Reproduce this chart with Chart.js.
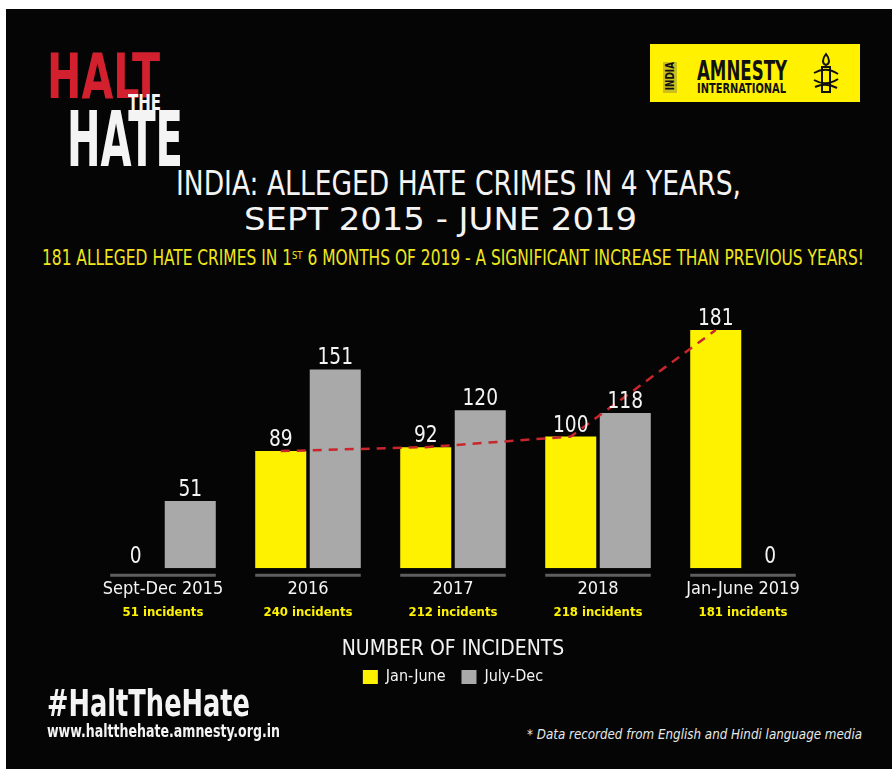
<!DOCTYPE html>
<html>
<head>
<meta charset="utf-8">
<script src="https://cdn.jsdelivr.net/npm/chart.js@4.4.1/dist/chart.umd.min.js"></script>
<style>
  body { margin: 0; width: 892px; height: 769px; overflow: hidden; position: relative; background: #fff;
         font-family: "Liberation Sans Narrow", "DejaVu Sans Condensed", "Arial Narrow", sans-serif; }
  #board { position: absolute; left: 6px; top: 9px; right: 0; bottom: 0; background: #050505; }
  .t { position: absolute; white-space: nowrap; line-height: 1; color: #f4f4f4; transform-origin: 0 0; }
  #wrap { position: absolute; left: 0; top: 280px; width: 892px; height: 415px; }
  .amn { position: absolute; left: 650px; top: 44px; width: 210px; height: 58px; background: #fff100; }
  .india { position: absolute; left: 663px; top: 62px; width: 14px; height: 31px; writing-mode: vertical-rl;
           transform: rotate(180deg) scaleY(0.82); font-size: 12px; font-weight: bold; line-height: 14px;
           text-align: center; color: #111; white-space: nowrap; }
  sup { font-size: 0.55em; vertical-align: 0.55em; }
</style>
</head>
<body>
<div id="board"></div>

<!-- Halt the Hate logo -->
<div class="t" data-w="113" style="left:47px;top:45px;font-size:63px;font-weight:bold;color:#d3202f;">HALT</div>
<div class="t" data-w="33" style="left:128px;top:93px;font-size:21px;font-weight:bold;">THE</div>
<div class="t" data-w="116" style="left:67px;top:101px;font-size:77px;font-weight:bold;">HATE</div>

<!-- Amnesty logo -->
<div class="amn"></div>
<div class="t" style="left:663px;top:62px;width:14px;height:31px;background:#cbbf1e;"></div>
<div class="india">INDIA</div>
<div class="t" data-w="90" style="left:697px;top:58px;font-size:26px;font-weight:bold;color:#111;">AMNESTY</div>
<div class="t" data-w="89" style="left:697px;top:81px;font-size:14px;font-weight:bold;color:#111;">INTERNATIONAL</div>
<svg style="position:absolute;left:810px;top:52px" width="32" height="46" viewBox="0 0 32 46" fill="none" stroke="#111" stroke-width="2">
  <path d="M16 2 C12 7 12 12 16 13 C20 12 20 7 16 2 Z"/>
  <rect x="12" y="15" width="8" height="25"/>
  <path d="M4 21 Q16 14 28 22"/>
  <path d="M4 28 Q16 35 28 27"/>
  <path d="M5 35 Q16 30 27 36"/>
</svg>

<!-- titles -->
<div class="t" data-w="565" style="left:176px;top:167px;font-size:33px;">INDIA: ALLEGED HATE CRIMES IN 4 YEARS,</div>
<div class="t" data-w="393" style="left:244px;top:203px;font-size:32px;">SEPT 2015 - JUNE 2019</div>
<div class="t" data-w="822" style="left:42px;top:248px;font-size:20.5px;color:#f1e51d;">181 ALLEGED HATE CRIMES IN 1<sup>ST</sup> 6 MONTHS OF 2019 - A SIGNIFICANT INCREASE THAN PREVIOUS YEARS!</div>

<div id="wrap"><canvas id="chart"></canvas></div>

<!-- footer -->
<div class="t" data-w="203" style="left:47px;top:684px;font-size:38px;font-weight:bold;">#HaltTheHate</div>
<div class="t" data-w="233" style="left:47px;top:722px;font-size:18px;font-weight:bold;">www.haltthehate.amnesty.org.in</div>
<div class="t" data-w="335" style="left:527px;top:727px;font-size:14px;font-style:italic;color:#e8e8e8;">* Data recorded from English and Hindi language media</div>

<script>
const categories = ['Sept-Dec 2015', '2016', '2017', '2018', 'Jan-June 2019'];
const seriesNames = ['Jan-June', 'July-Dec'];
const janJune = [0, 89, 92, 100, 181];
const julyDec = [51, 151, 120, 118, 0];
const totals = [51, 240, 212, 218, 181];
const trend = [null, 89, 92, 100, 181];
const legendTitle = 'NUMBER OF INCIDENTS';

const YELLOW = '#fff200';
const GREY = '#a9a9a9';
const NARROW = '"Liberation Sans Narrow", "DejaVu Sans Condensed", "Arial Narrow", sans-serif';

// squeeze html texts to the widths seen in the picture
document.querySelectorAll('[data-w]').forEach(el => {
  const w = el.getBoundingClientRect().width;
  el.style.transform = 'scaleX(' + (el.dataset.w / w) + ')';
});

// underlines, red trend line, value labels, incident counts
const extras = {
  id: 'extras',
  afterDatasetsDraw(chart) {
    const ctx = chart.ctx;
    const y = chart.scales.y, x = chart.scales.x;
    const a = chart.getDatasetMeta(0).data, b = chart.getDatasetMeta(1).data;
    const base = y.getPixelForValue(0);
    ctx.save();

    ctx.strokeStyle = '#5e5e5e';
    ctx.lineWidth = 3;
    categories.forEach((c, i) => {
      ctx.beginPath();
      ctx.moveTo(a[i].x - a[i].width / 2, base + 7);
      ctx.lineTo(b[i].x + b[i].width / 2, base + 7);
      ctx.stroke();
    });

    ctx.strokeStyle = '#c8262c';
    ctx.lineWidth = 2.5;
    ctx.setLineDash([9, 7]);
    ctx.beginPath();
    let started = false;
    trend.forEach((v, i) => {
      if (v == null) return;
      const px = a[i].x, py = y.getPixelForValue(v);
      if (started) ctx.lineTo(px, py); else ctx.moveTo(px, py);
      started = true;
    });
    ctx.stroke();
    ctx.setLineDash([]);

    ctx.fillStyle = '#f4f4f4';
    ctx.font = '23px ' + NARROW;
    ctx.textAlign = 'center';
    ctx.textBaseline = 'alphabetic';
    [a, b].forEach((bars, d) => bars.forEach((bar, i) => {
      ctx.save();
      ctx.translate(bar.x, bar.y - 5);
      ctx.scale(0.9, 1);
      ctx.fillText(chart.data.datasets[d].data[i], 0, 0);
      ctx.restore();
    }));

    ctx.fillStyle = YELLOW;
    ctx.font = 'bold 13px ' + NARROW;
    categories.forEach((c, i) => {
      ctx.fillText(totals[i] + ' incidents', x.getPixelForValue(i), base + 48);
    });
    ctx.restore();
  }
};

new Chart(document.getElementById('chart'), {
  type: 'bar',
  data: {
    labels: categories,
    datasets: [
      { label: seriesNames[0], data: janJune, backgroundColor: YELLOW },
      { label: seriesNames[1], data: julyDec, backgroundColor: GREY }
    ]
  },
  options: {
    responsive: true,
    maintainAspectRatio: false,
    animation: false,
    categoryPercentage: 0.752,
    barPercentage: 0.936,
    layout: { padding: { top: 25, left: 90.5, right: 76.5, bottom: 0 } },
    scales: {
      x: {
        grid: { display: false, drawTicks: false },
        border: { display: false },
        ticks: { color: '#f4f4f4', font: { family: NARROW, size: 18 }, padding: 10 },
        afterFit(scale) { scale.height += 28; }
      },
      y: { display: false, min: 0, max: 200 }
    },
    plugins: {
      tooltip: { enabled: false },
      legend: {
        position: 'bottom',
        title: { display: true, text: legendTitle, color: '#f4f4f4', font: { family: NARROW, size: 21 }, padding: { top: 1, bottom: -11 } },
        labels: { color: '#f4f4f4', font: { family: NARROW, size: 16 }, boxWidth: 15, boxHeight: 14, padding: 16 }
      }
    }
  },
  plugins: [extras]
});
</script>
</body>
</html>
